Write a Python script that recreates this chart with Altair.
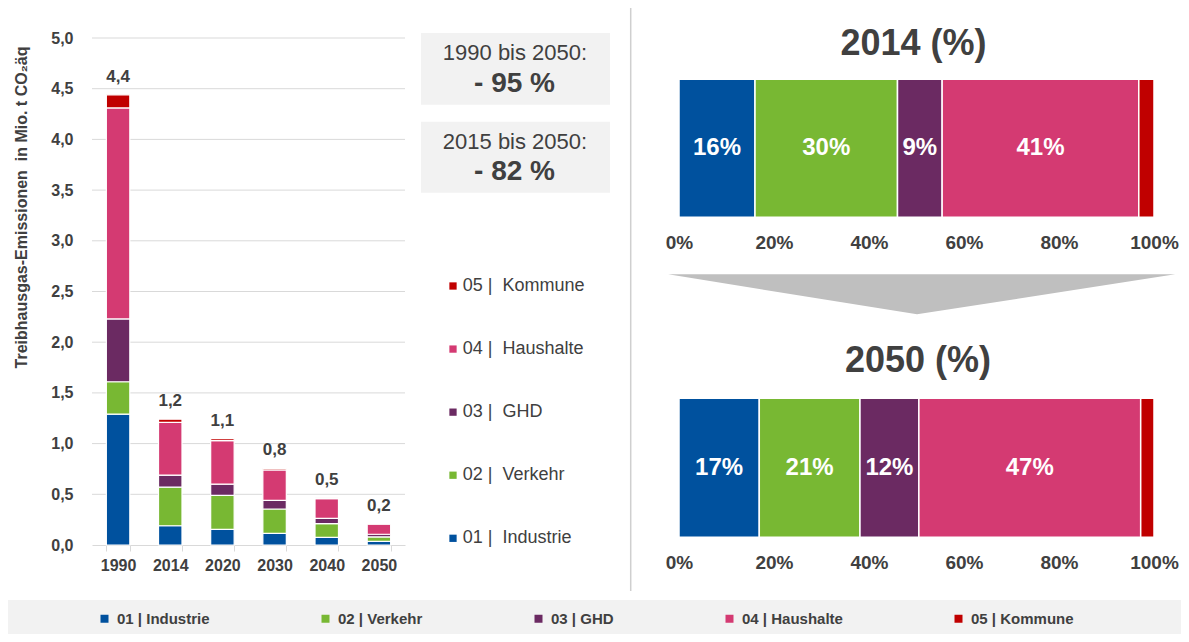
import altair as alt
import pandas as pd

FONT = "Liberation Sans"
TXT = "#404040"

# ---------------- data ----------------
years = ["1990", "2014", "2020", "2030", "2040", "2050"]
sectors = ["01 | Industrie", "02 | Verkehr", "03 | GHD", "04 | Haushalte", "05 | Kommune"]
colors = ["#00519E", "#78B833", "#6B2A62", "#D43A72", "#C00000"]

industrie = [1.29, 0.19, 0.155, 0.115, 0.076, 0.036]
verkehr = [0.32, 0.38, 0.335, 0.24, 0.134, 0.044]
ghd = [0.62, 0.12, 0.11, 0.085, 0.053, 0.026]
haushalte = [2.08, 0.52, 0.43, 0.30, 0.194, 0.10]
kommune = [0.13, 0.03, 0.02, 0.015, 0.01, 0.006]
total_labels = ["4,4", "1,2", "1,1", "0,8", "0,5", "0,2"]

share_2014 = [16.0, 30.0, 9.4, 41.4, 3.2]
share_2050 = [16.9, 21.2, 12.4, 46.7, 2.8]

y_ticks = [0.0, 0.5, 1.0, 1.5, 2.0, 2.5, 3.0, 3.5, 4.0, 4.5, 5.0]
pct_ticks = [0, 20, 40, 60, 80, 100]

compare_periods = ["1990 bis 2050:", "2015 bis 2050:"]
compare_values = ["- 95 %", "- 82 %"]

y_title = "Treibhausgas-Emissionen\u00a0\u00a0in Mio. t CO\u2082\u00e4q"

# ---------------- tables ----------------
series = [industrie, verkehr, ghd, haushalte, kommune]
rows = []
for i, s in enumerate(sectors):
    for j, yr in enumerate(years):
        rows.append({"year": yr, "sector": s, "idx": i, "value": series[i][j]})
bars_df = pd.DataFrame(rows)
tot_df = pd.DataFrame({
    "year": years,
    "total": [sum(series[i][j] for i in range(len(sectors))) for j in range(len(years))],
    "label": total_labels,
})
grid_df = pd.DataFrame({"v": y_ticks[1:]})
mid_df = pd.DataFrame({"sector": sectors,
                       "label": [s.replace("| ", "|\u00a0\u00a0") for s in sectors]})
one = pd.DataFrame({"k": [0]})

W, H = 1173, 626

legend = alt.Legend(
    orient="none", legendX=89, legendY=603, direction="horizontal", columns=5,
    columnPadding=108, symbolType="square", symbolSize=64, symbolStrokeWidth=0,
    symbolOpacity=1, labelFont=FONT, labelFontSize=15, labelFontWeight="bold",
    labelColor=TXT, labelOffset=5, title=None, padding=0, labelLimit=300,
)
color_enc = alt.Color("sector:N", scale=alt.Scale(domain=sectors, range=colors), legend=legend)


def rect(x1, x2, y1, y2, color):
    return alt.Chart(one).mark_rect(color=color).encode(
        x=alt.value(x1), x2=alt.value(x2), y=alt.value(y1), y2=alt.value(y2))


def label(txt, x, y, size, weight="normal", color=TXT, angle=0):
    return alt.Chart(one).mark_text(
        text=txt, font=FONT, fontSize=size, fontWeight=weight, color=color,
        align="center", baseline="middle", angle=angle,
    ).encode(x=alt.value(x), y=alt.value(y))


# ---------------- decorations ----------------
band = rect(0, W, 592, H, "#F2F2F2")
box1 = rect(413, 602, 25, 96.7, "#F2F2F2")
box2 = rect(413, 602, 113.7, 184.7, "#F2F2F2")
sep = alt.Chart(one).mark_rule(color="#CFCFCF", strokeWidth=1.5).encode(
    x=alt.value(622.7), y=alt.value(0), y2=alt.value(583))
arrow = alt.Chart(one).mark_point(
    shape="M -1 -0.0789 L 1 -0.0789 L -0.0186 0.0789 Z", size=257049,
    filled=True, color="#BFBFBF", opacity=1, strokeWidth=0,
).encode(x=alt.value(913.7), y=alt.value(286.3))

# ---------------- left stacked bars ----------------
xband = alt.Scale(domain=years, range=[84, 397], paddingInner=0.55, paddingOuter=0.275)
ylin = alt.Scale(domain=[0, 5], range=[537, 30])

grid = alt.Chart(grid_df).mark_rule(color="#D9D9D9", strokeWidth=1).encode(
    y=alt.Y("v:Q", scale=ylin, axis=None), x=alt.value(84), x2=alt.value(397))

bars = alt.Chart(bars_df).mark_bar(stroke="white", strokeWidth=1.2).encode(
    x=alt.X("year:N", scale=xband, sort=years, axis=alt.Axis(
        orient="bottom", offset=537 - H, title=None, labelAngle=0, grid=False,
        domainColor="#D9D9D9", tickColor="#D9D9D9", tickSize=6, tickBand="extent",
        labelPadding=6, labelFont=FONT, labelFontSize=16, labelFontWeight="bold",
        labelColor=TXT)),
    y=alt.Y("value:Q", stack="zero", scale=ylin, axis=alt.Axis(
        orient="left", offset=-65, values=y_ticks, title=None, grid=False,
        domain=False, ticks=False, tickSize=0, labelPadding=0,
        labelExpr="replace(format(datum.value, '.1f'), '.', ',')",
        labelFont=FONT, labelFontSize=16, labelFontWeight="bold", labelColor=TXT)),
    color=color_enc,
    order=alt.Order("idx:Q", sort="ascending"),
)

totals = alt.Chart(tot_df).mark_text(
    font=FONT, fontSize=17, fontWeight="bold", color=TXT, dy=-18, baseline="middle"
).encode(
    x=alt.X("year:N", scale=xband, sort=years, axis=None),
    y=alt.Y("total:Q", scale=ylin, axis=None),
    text="label:N",
)

ytitle = label(y_title, 13.7, 199.5, 16, "bold", angle=270)

# ---------------- middle panel ----------------
cmp_texts = [
    label(compare_periods[0], 507, 45.3, 22),
    label(compare_values[0], 506.5, 75.7, 28, "bold"),
    label(compare_periods[1], 507, 133.7, 22),
    label(compare_values[1], 506.5, 163.7, 28, "bold"),
]

mid_scale = alt.Scale(type="point", domain=list(reversed(sectors)), range=[278, 530.3], padding=0)
mid_sq = alt.Chart(mid_df).mark_square(size=53, opacity=1, strokeWidth=0).encode(
    y=alt.Y("sector:N", scale=mid_scale, axis=None), x=alt.value(445), color=color_enc)
mid_tx = alt.Chart(mid_df).mark_text(
    font=FONT, fontSize=18, color=TXT, align="left", baseline="middle"
).encode(y=alt.Y("sector:N", scale=mid_scale, axis=None), x=alt.value(454.7), text="label:N")


# ---------------- right 100% bars ----------------
def share_block(period, shares, y0, y1):
    df = pd.DataFrame({"period": period, "sector": sectors,
                       "idx": list(range(len(sectors))), "share": shares})
    xs = alt.Scale(domain=[0, 100], range=[671, 1146])
    ys = alt.Scale(domain=[period], range=[y0, y1], paddingInner=0, paddingOuter=0)
    bar = alt.Chart(df).mark_bar(stroke="white", strokeWidth=1.5).encode(
        x=alt.X("share:Q", stack="zero", scale=xs, axis=alt.Axis(
            orient="bottom", offset=y1 - H, values=pct_ticks, title=None, grid=False,
            domain=False, ticks=False, tickSize=0, labelPadding=16, labelFlush=False,
            labelExpr="datum.value + '%'", labelFont=FONT, labelFontSize=19,
            labelFontWeight="bold", labelColor=TXT)),
        y=alt.Y("period:N", scale=ys, axis=None),
        color=color_enc,
        order=alt.Order("idx:Q", sort="ascending"),
    )
    txt = alt.Chart(df).transform_window(
        cum="sum(share)", sort=[alt.SortField("idx", order="ascending")]
    ).transform_calculate(
        mid="datum.cum - datum.share / 2",
        txt="format(datum.share, '.0f') + '%'",
    ).transform_filter("datum.share >= 5").mark_text(
        font=FONT, fontSize=24, fontWeight="bold", color="white", baseline="middle"
    ).encode(
        x=alt.X("mid:Q", scale=xs, axis=None),
        y=alt.Y("period:N", scale=ys, axis=None),
        text="txt:N",
    )
    return [bar, txt]


right_2014 = share_block("2014", share_2014, 71.3, 209.3)
right_2050 = share_block("2050", share_2050, 390.3, 529.3)
title_2014 = label("2014 (%)", 905.5, 36, 36, "bold")
title_2050 = label("2050 (%)", 910, 353, 36, "bold")

layers = [band, box1, box2, sep, arrow, grid, bars, totals, ytitle] + cmp_texts + \
    [mid_sq, mid_tx] + right_2014 + right_2050 + [title_2014, title_2050]

chart = alt.layer(*layers).resolve_scale(
    x="independent", y="independent"
).properties(
    width=W, height=H, padding=0, autosize=alt.AutoSizeParams(type="none"),
    background="white",
).configure(font=FONT).configure_view(stroke=None)

chart.save("out.html", embed_options={"renderer": "svg", "actions": False})
